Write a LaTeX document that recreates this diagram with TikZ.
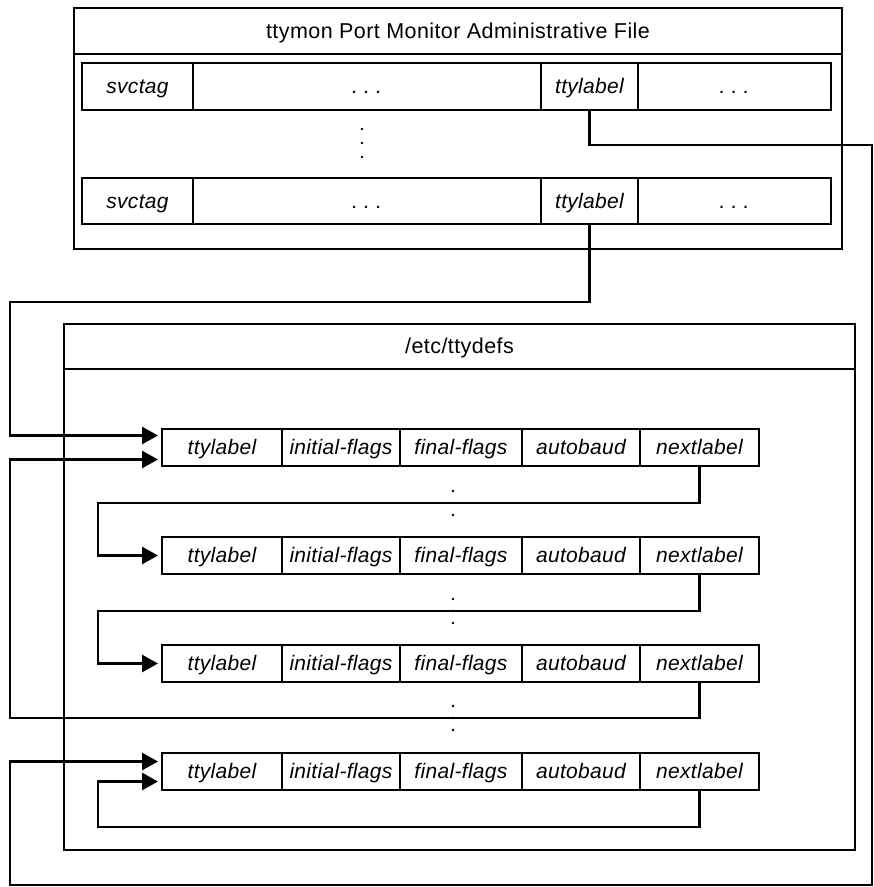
\documentclass[tikz,border=0pt]{standalone}
\usepackage{fontspec}
\setmainfont{Liberation Sans}
\newfontfamily\labelfont{Liberation Sans}[LetterSpace=1.5]
\newfontfamily\headfont{Liberation Sans}[LetterSpace=2]
\usetikzlibrary{arrows.meta}
\begin{document}
\begin{tikzpicture}[x=1pt,y=-1pt,
  frame/.style={draw, line width=2pt, inner sep=0pt, anchor=north west,
    font=\headfont\fontsize{21.5}{24}\selectfont, text height=15pt, text depth=1pt},
  cell/.style={draw, line width=2pt, inner sep=0pt, anchor=north west,
    font=\labelfont\fontsize{21}{24}\selectfont\itshape, text height=15pt, text depth=1pt},
  link/.style={line width=2.8pt},
  feed/.style={link, -{Triangle[length=16pt,width=17pt]}},
  dot/.style={fill=black}
]
\useasboundingbox (0,0) rectangle (874,887);

% ttymon administrative file
\node[frame, minimum width=768pt, minimum height=241pt] (adm) at (73,7) {};
\node[frame, minimum width=768pt, minimum height=46pt] (admtitle) at (73,7)
  {ttymon Port Monitor Administrative File};

\node[cell, minimum width=111pt, minimum height=47pt] (a1a) at (81,62) {svctag};
\node[cell, minimum width=348pt, minimum height=47pt] (a1b) at (192,62) {.\ .\ .};
\node[cell, minimum width=97pt,  minimum height=47pt] (a1c) at (540,62) {ttylabel};
\node[cell, minimum width=193pt, minimum height=47pt] (a1d) at (637,62) {.\ .\ .};

\node[cell, minimum width=111pt, minimum height=46pt] (a2a) at (81,177) {svctag};
\node[cell, minimum width=348pt, minimum height=46pt] (a2b) at (192,177) {.\ .\ .};
\node[cell, minimum width=97pt,  minimum height=46pt] (a2c) at (540,177) {ttylabel};
\node[cell, minimum width=193pt, minimum height=46pt] (a2d) at (637,177) {.\ .\ .};

\foreach \y in {129,143,157} \fill[dot] (362,\y) circle (1.3pt);

% /etc/ttydefs
\node[frame, minimum width=791pt, minimum height=526pt] (defs) at (63,323) {};
\node[frame, minimum width=791pt, minimum height=45pt] (defstitle) at (63,323)
  {/etc/ttydefs};

\foreach \r/\y in {1/428,2/536,3/644,4/752}{
  \node[cell, minimum width=120pt, minimum height=37pt] (t\r a) at (161,\y) {ttylabel};
  \node[cell, minimum width=118pt, minimum height=37pt] (t\r b) at (281,\y) {initial-flags};
  \node[cell, minimum width=122pt, minimum height=37pt] (t\r c) at (399,\y) {final-flags};
  \node[cell, minimum width=118pt, minimum height=37pt] (t\r d) at (521,\y) {autobaud};
  \node[cell, minimum width=119pt, minimum height=37pt] (t\r e) at (639,\y) {nextlabel};
}

\foreach \y in {491,503,515,599,611,623,706,718,730} \fill[dot] (453,\y) circle (1.3pt);

% connectors
\coordinate (rimE) at (872,145);
\coordinate (rimS) at (10,885);
\coordinate (upperW) at (10,302);
\coordinate (loop1) at (98,503);
\coordinate (loop2) at (98,611);
\coordinate (loop3) at (10,718);
\coordinate (loop4) at (98,827);

\draw[feed] (a1c.south) |- (rimE) |- (rimS) |- ([xshift=-3pt,yshift=10pt]t4a.west);
\draw[feed] (a2c.south) |- (upperW) |- ([xshift=-3pt,yshift=12pt]t1a.west);
\draw[feed] (t1e.south) |- (loop1) |- ([xshift=-3pt]t2a.west);
\draw[feed] (t2e.south) |- (loop2) |- ([xshift=-3pt]t3a.west);
\draw[feed] (t3e.south) |- (loop3) |- ([xshift=-3pt,yshift=-12pt]t1a.west);
\draw[feed] (t4e.south) |- (loop4) |- ([xshift=-3pt,yshift=-10pt]t4a.west);
\end{tikzpicture}
\end{document}
